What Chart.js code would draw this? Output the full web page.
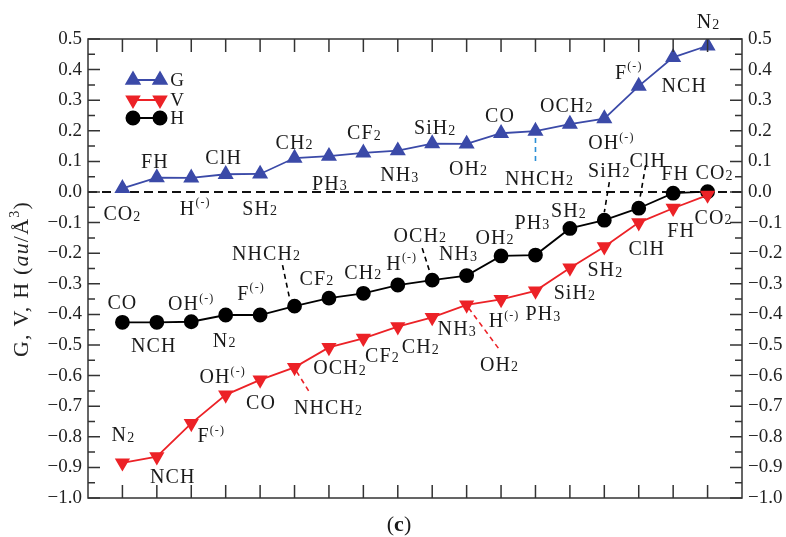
<!DOCTYPE html>
<html>
<head>
<meta charset="utf-8">
<script src="https://cdn.jsdelivr.net/npm/chart.js@4.4.1/dist/chart.umd.min.js"></script>
<style>
html, body { margin: 0; padding: 0; background: #fff; }
</style>
</head>
<body>
<canvas id="chart" width="786" height="537"></canvas>
<script>
// Rank of each molecule along the x axis
const ranks = [1, 2, 3, 4, 5, 6, 7, 8, 9, 10, 11, 12, 13, 14, 15, 16, 17, 18];

// G series
const gLabels = ['CO_2', 'FH', 'H^(-)', 'ClH', 'SH_2', 'CH_2', 'PH_3', 'CF_2', 'NH_3', 'SiH_2', 'OH_2', 'CO', 'NHCH_2', 'OCH_2', 'OH^(-)', 'F^(-)', 'NCH', 'N_2'];
const gValues = [0.012, 0.047, 0.046, 0.058, 0.059, 0.111, 0.117, 0.128, 0.135, 0.158, 0.157, 0.192, 0.199, 0.222, 0.240, 0.346, 0.440, 0.478];

// V series
const vLabels = ['N_2', 'NCH', 'F^(-)', 'OH^(-)', 'CO', 'NHCH_2', 'OCH_2', 'CF_2', 'CH_2', 'NH_3', 'OH_2', 'H^(-)', 'PH_3', 'SiH_2', 'SH_2', 'ClH', 'FH', 'CO_2'];
const vValues = [-0.885, -0.865, -0.756, -0.663, -0.614, -0.573, -0.508, -0.478, -0.440, -0.410, -0.369, -0.351, -0.323, -0.248, -0.179, -0.100, -0.053, -0.010];

// H series
const hLabels = ['CO', 'NCH', 'OH^(-)', 'N_2', 'F^(-)', 'NHCH_2', 'CF_2', 'CH_2', 'H^(-)', 'OCH_2', 'NH_3', 'OH_2', 'PH_3', 'SH_2', 'SiH_2', 'ClH', 'FH', 'CO_2'];
const hValues = [-0.426, -0.426, -0.424, -0.402, -0.402, -0.373, -0.347, -0.331, -0.304, -0.288, -0.273, -0.209, -0.206, -0.119, -0.092, -0.053, -0.004, 0.001];

const seriesNames = ['G', 'V', 'H'];

// y axis range
const yMin = -1.0;
const yMax = 0.5;
const yStep = 0.1;

// ---- styling ----
const FONT = '"Liberation Serif", "DejaVu Serif", serif';
const LBL = 20;
const colors = { G: '#3b4aa8', V: '#ec2227', H: '#000000' };

// label offsets (px) from each point, same order as the series
const gOff = [[0,25],[-2,-16],[4,30],[-2,-17],[0,34],[0,-16],[1,27],[1,-20],[2,24],[3,-16],[2,24],[-1,-18],[4,47],[-3,-19],[7,24],[-10,-14],[11,28],[1,-24]];
const vOff = [[1,-28],[16,20],[20,12],[-3,-18],[1,23],[34,40],[11,20],[19,17],[23,20],[25,11],[33,59],[3,21],[8,23],[5,25],[1,23],[8,26],[8,22],[6,22]];
const hOff = [[0,-20],[-3,23],[0,-18],[-1,25],[-9,-22],[-28,-53],[-12,-20],[0,-21],[4,-22],[-12,-45],[-8,-22],[-6,-19],[-3,-33],[-1,-18],[5,-50],[9,-48],[2,-20],[7,-19]];

// dashed leader lines: dataset, point index, start/end offsets from the point
const leaders = [
    { ds: 0, i: 12, from: [0, 7], to: [0, 32], color: '#2b8fd6' },
    { ds: 1, i: 5, from: [2, 4], to: [15, 25], color: '#ec2227' },
    { ds: 1, i: 10, from: [2, 3], to: [33, 45], color: '#ec2227' },
    { ds: 2, i: 5, from: [-12, -41], to: [-5, -8], color: '#000' },
    { ds: 2, i: 9, from: [-10, -32], to: [-3, -10], color: '#000' },
    { ds: 2, i: 14, from: [5, -38], to: [0, -8], color: '#000' },
    { ds: 2, i: 15, from: [7, -43], to: [1, -9], color: '#000' }
];

// Split "NHCH_2" / "OH^(-)" into normal, subscript and superscript parts
function parseRich(str) {
    const parts = [];
    const re = /_([0-9]+)|\^(\([^)]*\)|[0-9])|\*([^*]+)\*|([^_^*]+)/g;
    let m;
    while ((m = re.exec(str))) {
        if (m[1]) parts.push({ t: m[1], k: 'sub' });
        else if (m[2]) parts.push({ t: m[2], k: 'sup' });
        else if (m[3]) parts.push({ t: m[3], k: 'it' });
        else parts.push({ t: m[4], k: 'n' });
    }
    return parts;
}

function partFont(k, size) {
    if (k === 'sub') return Math.round(size * 0.68) + 'px ' + FONT;
    if (k === 'sup') return Math.round(size * 0.62) + 'px ' + FONT;
    if (k === 'it') return 'italic ' + size + 'px ' + FONT;
    if (k === 'b') return 'bold ' + size + 'px ' + FONT;
    return size + 'px ' + FONT;
}

function drawRich(ctx, str, cx, cy, size, color, spacing) {
    const parts = parseRich(str);
    ctx.letterSpacing = (spacing || 0) + 'px';
    let w = 0;
    parts.forEach(p => {
        ctx.font = partFont(p.k, size);
        p.w = ctx.measureText(p.t).width;
        w += p.w;
    });
    let x = cx - w / 2;
    const base = cy + size * 0.33;
    ctx.fillStyle = color;
    ctx.textAlign = 'left';
    ctx.textBaseline = 'alphabetic';
    parts.forEach(p => {
        ctx.font = partFont(p.k, size);
        let y = base;
        if (p.k === 'sub') y = base + size * 0.03;
        if (p.k === 'sup') y = base - size * 0.42;
        ctx.fillText(p.t, x, y);
        x += p.w;
    });
    ctx.letterSpacing = '0px';
}

const annotate = {
    id: 'annotate',
    beforeDatasetsDraw(chart) {
        const { ctx, chartArea: a, scales } = chart;
        const y0 = scales.y.getPixelForValue(0);
        ctx.save();
        ctx.strokeStyle = '#111';
        ctx.lineWidth = 2;
        ctx.setLineDash([9, 5]);
        ctx.beginPath();
        ctx.moveTo(a.left, y0);
        ctx.lineTo(a.right, y0);
        ctx.stroke();
        ctx.restore();
    },
    afterDatasetsDraw(chart) {
        const { ctx, chartArea: a, scales } = chart;
        const xs = scales.x, ys = scales.y;
        ctx.save();

        // leader lines
        ctx.lineWidth = 1.6;
        ctx.setLineDash([5, 4]);
        leaders.forEach(l => {
            const vals = [gValues, vValues, hValues][l.ds];
            const px = xs.getPixelForValue(ranks[l.i]);
            const py = ys.getPixelForValue(vals[l.i]);
            ctx.strokeStyle = l.color;
            ctx.beginPath();
            ctx.moveTo(px + l.from[0], py + l.from[1]);
            ctx.lineTo(px + l.to[0], py + l.to[1]);
            ctx.stroke();
        });
        ctx.setLineDash([]);

        // point labels
        [[gLabels, gValues, gOff], [vLabels, vValues, vOff], [hLabels, hValues, hOff]].forEach(([labels, vals, off]) => {
            labels.forEach((txt, i) => {
                const px = xs.getPixelForValue(ranks[i]);
                const py = ys.getPixelForValue(vals[i]);
                drawRich(ctx, txt, px + off[i][0], py + off[i][1], LBL, '#1a1a1a', 1.1);
            });
        });

        // frame
        ctx.strokeStyle = '#333';
        ctx.lineWidth = 1.5;
        ctx.strokeRect(a.left, a.top, a.right - a.left, a.bottom - a.top);

        // inward ticks on x (top and bottom)
        ranks.forEach(r => {
            const px = xs.getPixelForValue(r);
            ctx.beginPath();
            ctx.moveTo(px, a.bottom); ctx.lineTo(px, a.bottom - 13);
            ctx.moveTo(px, a.top); ctx.lineTo(px, a.top + 13);
            ctx.stroke();
        });
        // inward major and minor ticks on y (left and right)
        const n = Math.round((yMax - yMin) / (yStep / 2));
        for (let k = 0; k <= n; k++) {
            const v = yMin + k * yStep / 2;
            const py = ys.getPixelForValue(v);
            const len = k % 2 === 0 ? 12 : 7;
            ctx.beginPath();
            ctx.moveTo(a.left, py); ctx.lineTo(a.left + len, py);
            ctx.moveTo(a.right, py); ctx.lineTo(a.right - len, py);
            ctx.stroke();
        }

        // legend
        const legY = [80, 100, 118];
        chart.data.datasets.forEach((ds, i) => {
            const y = legY[i];
            ctx.strokeStyle = ds.borderColor;
            ctx.fillStyle = ds.backgroundColor;
            ctx.lineWidth = 2;
            ctx.beginPath();
            ctx.moveTo(133, y); ctx.lineTo(160, y);
            ctx.stroke();
            const opts = { pointStyle: ds.pointStyle, radius: ds.pointRadius, rotation: ds.pointRotation || 0, borderWidth: 1 };
            Chart.helpers.drawPoint(ctx, opts, 133, y);
            Chart.helpers.drawPoint(ctx, opts, 160, y);
            drawRich(ctx, seriesNames[i], 177, y, 19, '#1a1a1a');
        });

        // y axis title, rotated
        ctx.save();
        ctx.translate(21, 279);
        ctx.rotate(-Math.PI / 2);
        drawRich(ctx, 'G, V, H (*au*/\u00c5^3)', 0, 0, 22, '#222', 1.2);
        ctx.restore();

        // panel caption
        const capParts = [['(', 'n'], ['c', 'b'], [')', 'n']];
        let w = 0;
        capParts.forEach(p => { ctx.font = partFont(p[1], 22); p.w = ctx.measureText(p[0]).width; w += p.w; });
        let cx = 399 - w / 2;
        ctx.fillStyle = '#1a1a1a';
        capParts.forEach(p => { ctx.font = partFont(p[1], 22); ctx.fillText(p[0], cx, 531); cx += p.w; });

        ctx.restore();
    }
};

function makeSet(name, values, style, radius, rotation) {
    return {
        label: name,
        data: ranks.map((r, i) => ({ x: r, y: values[i] })),
        borderColor: colors[name],
        backgroundColor: colors[name],
        pointBackgroundColor: colors[name],
        pointBorderColor: colors[name],
        pointStyle: style,
        pointRadius: radius,
        pointRotation: rotation,
        borderWidth: 1.8,
        tension: 0
    };
}

function tickLabel(v) {
    const r = Math.round(v * 10) / 10;
    if (r === 0) return '0.0';
    return (r < 0 ? '\u2212' : '') + Math.abs(r).toFixed(1);
}

const yAxis = (pos, width) => ({
    position: pos,
    min: yMin,
    max: yMax,
    afterFit(scale) { scale.width = width; },
    grid: { drawOnChartArea: false, drawTicks: false },
    border: { display: false },
    ticks: {
        stepSize: yStep,
        padding: 6,
        color: '#222',
        font: { family: FONT, size: 19 },
        callback: tickLabel
    }
});

const ctx = document.getElementById('chart').getContext('2d');
new Chart(ctx, {
    type: 'line',
    data: {
        datasets: [
            makeSet('G', gValues, 'triangle', 7.5, 0),
            makeSet('V', vValues, 'triangle', 7, 180),
            makeSet('H', hValues, 'circle', 6.5, 0)
        ]
    },
    options: {
        responsive: false,
        animation: false,
        layout: { padding: { top: 39, bottom: 39, left: 0, right: 0 } },
        plugins: { legend: { display: false }, tooltip: { enabled: false } },
        scales: {
            x: { type: 'linear', min: 0, max: 19, display: false },
            y: yAxis('left', 88),
            y2: yAxis('right', 44)
        }
    },
    plugins: [annotate]
});
</script>
</body>
</html>
